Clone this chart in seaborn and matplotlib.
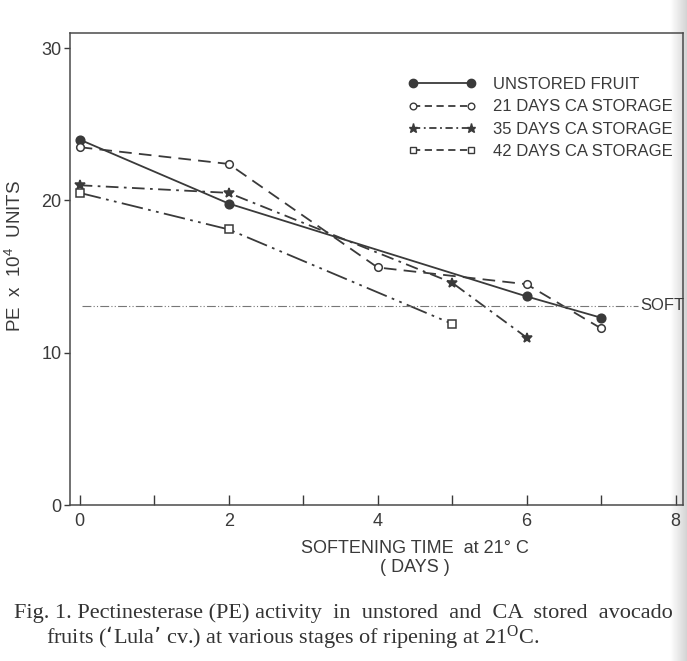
import numpy as np
import pandas as pd
import matplotlib
matplotlib.use("Agg")
import matplotlib.pyplot as plt
import seaborn as sns
from matplotlib.lines import Line2D

# values
days_unstored = [0, 2, 6, 7]
pe_unstored = [24.0, 19.8, 13.7, 12.3]
days_21 = [0, 2, 4, 6, 7]
pe_21 = [23.5, 22.4, 15.6, 14.5, 11.6]
days_35 = [0, 2, 5, 6]
pe_35 = [21.0, 20.5, 14.6, 11.0]
days_42 = [0, 2, 5]
pe_42 = [20.5, 18.1, 11.9]
soft_level = 13.1
soft_span = [0.03, 7.5]

labels = ["UNSTORED FRUIT", "21 DAYS CA STORAGE", "35 DAYS CA STORAGE", "42 DAYS CA STORAGE"]
x_ticks = list(range(9))
x_ticklabels = ["0", "", "2", "", "4", "", "6", "", "8"]
y_ticks = [0, 10, 20, 30]

sns.set_style("ticks")
plt.rcParams["font.family"] = ["Liberation Sans", "DejaVu Sans"]
plt.rcParams["mathtext.default"] = "regular"

ink = "#3a3a3a"
fig = plt.figure(figsize=(6.87, 6.61), dpi=100)

# scanner shadow on the right edge
sh = fig.add_axes([0.975, 0, 0.025, 1], zorder=-1)
sh.imshow(np.linspace(1, 0.82, 50)[None, :], cmap="gray", vmin=0, vmax=1,
          aspect="auto", extent=[0, 1, 0, 1])
sh.axis("off")

ax = fig.add_axes([70 / 687, 1 - 505 / 661, 613 / 687, 472 / 661])
ax.patch.set_alpha(0)

frames = [
    (days_unstored, pe_unstored, "o", 6.2, ink, None),
    (days_21, pe_21, "o", 5.5, "white", (7, 4)),
    (days_35, pe_35, "*", 7.5, ink, (7, 3, 1.5, 3)),
    (days_42, pe_42, "s", 5.2, "white", (12, 3, 1.5, 3, 1.5, 3)),
]
for (d, v, m, ms, fc, dash), lab in zip(frames, labels):
    df = pd.DataFrame({"day": d, "pe": v})
    sns.lineplot(data=df, x="day", y="pe", ax=ax, color=ink, lw=1.3,
                 marker=m, markersize=ms, markerfacecolor=fc,
                 markeredgecolor=ink, markeredgewidth=1.1)
    if dash is not None:
        ax.lines[-1].set_dashes(dash)

# softening threshold
ax.plot(soft_span, [soft_level, soft_level], color="#777777", lw=0.8,
        dashes=(8, 2, 1, 2, 1, 2))
ax.text(soft_span[1] + 0.03, soft_level, "SOFT", fontsize=12, color=ink,
        va="center", ha="left")

ax.set_xlim(-0.13, 8.1)
ax.set_ylim(0, 31)
ax.set_xticks(x_ticks)
ax.set_xticklabels(x_ticklabels)
ax.set_yticks(y_ticks)
ax.tick_params(axis="x", direction="in", length=7, width=1, pad=6,
               labelsize=13, colors=ink)
ax.tick_params(axis="y", direction="out", length=4, width=1, pad=2,
               labelsize=13, colors=ink)
for s in ax.spines.values():
    s.set_color("#4a4a4a")
    s.set_linewidth(1.1)

ax.set_xlabel("SOFTENING TIME  at 21° C\n( DAYS )", fontsize=13, color=ink,
              linespacing=1.15)
ax.xaxis.set_label_coords((415 - 70) / 613, -0.075)
ax.xaxis.label.set_va("top")
ax.set_ylabel(r"PE  x  10$^{4}$  UNITS", fontsize=13.5, color=ink)
ax.yaxis.set_label_coords(-(70 - 25) / 613, 0.528)

handles = [
    Line2D([], [], color=ink, lw=1.3, marker="o", ms=6, mfc=ink, mec=ink),
    Line2D([], [], color=ink, lw=1.3, marker="o", ms=4.8, mfc="white", mec=ink, dashes=(4, 2.5)),
    Line2D([], [], color=ink, lw=1.3, marker="*", ms=6.5, mfc=ink, mec=ink, dashes=(4, 2, 1, 2)),
    Line2D([], [], color=ink, lw=1.3, marker="s", ms=4.5, mfc="white", mec=ink, dashes=(4, 2.5)),
]
leg = ax.legend(handles, labels, loc="upper left", bbox_to_anchor=(393 / 687, 1 - 62 / 661),
                bbox_transform=fig.transFigure, frameon=False, numpoints=2,
                handlelength=4.1, handletextpad=1.0, labelspacing=0.44, fontsize=12)
for t in leg.get_texts():
    t.set_color(ink)

cap_kw = dict(family=["Liberation Serif", "DejaVu Serif"], fontsize=16, color="#333333")
fig.text(14 / 687, 1 - 618 / 661,
         "Fig. 1. Pectinesterase (PE) activity  in  unstored  and  CA  stored  avocado",
         va="baseline", ha="left", **cap_kw)
fig.text(46 / 687, 1 - 643 / 661,
         "fruits (‘Lula’ cv.) at various stages of ripening at 21$^{O}$C.",
         va="baseline", ha="left", **cap_kw)

fig.savefig("out.png", dpi=100)
